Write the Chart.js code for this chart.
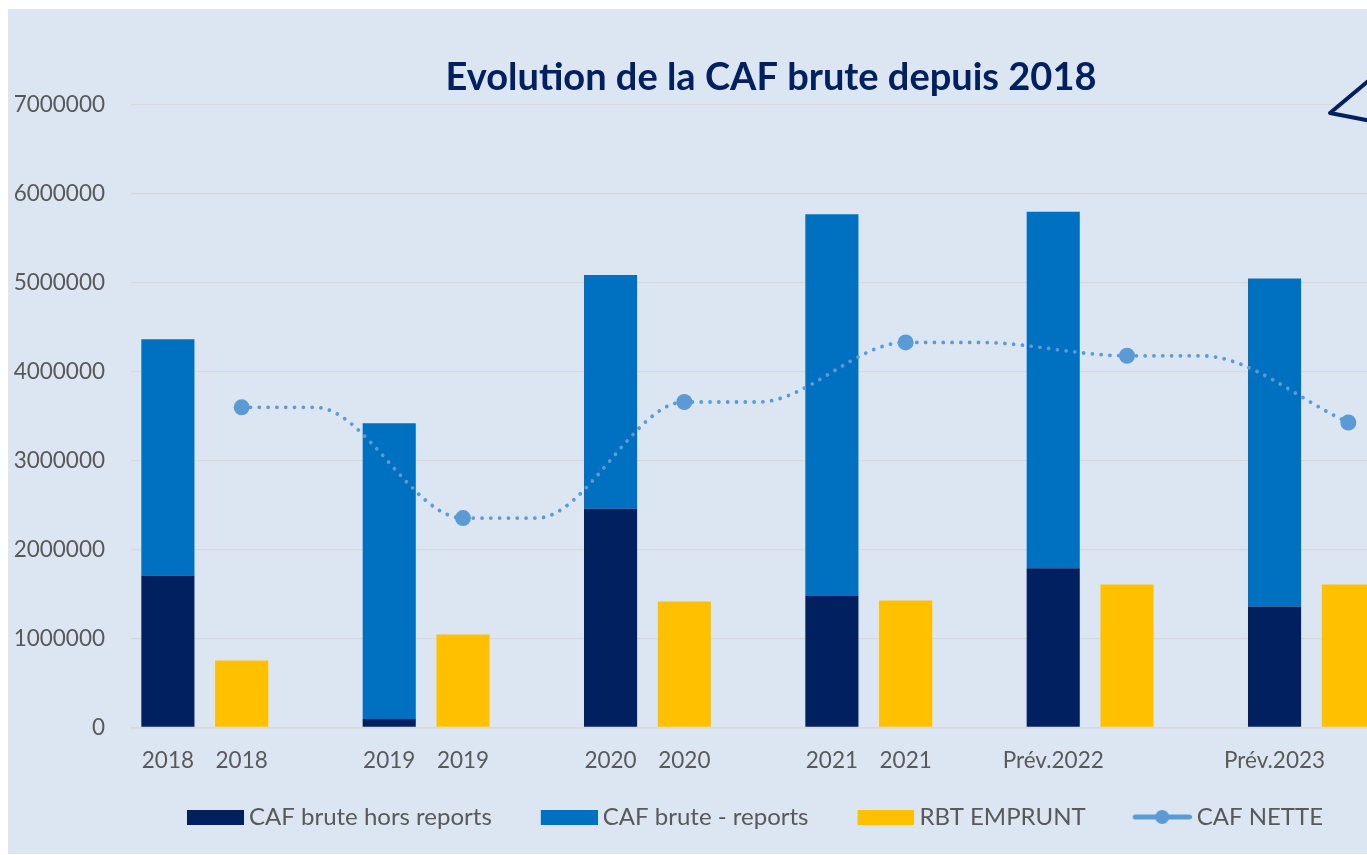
<!DOCTYPE html>
<html>
<head>
<meta charset="utf-8">
<script src="https://cdn.jsdelivr.net/npm/chart.js@4.4.0/dist/chart.umd.min.js"></script>
<style>
  html, body { margin: 0; padding: 0; background: #fff; overflow: hidden; width: 1367px; height: 855px; }
  #wrap { position: absolute; left: 8px; top: 9px; }
  canvas { display: block; background: #DCE6F2; }
</style>
</head>
<body>
<div id="wrap"><canvas id="caf" width="1526" height="845"></canvas></div>
<script>
// three slots per year: stacked CAF brute, RBT emprunt, empty gap
const categories = ['2018', '2018', '', '2019', '2019', '', '2020', '2020', '', '2021', '2021', '',
  'Prév.2022', '', '', 'Prév.2023', '', ''];
const cafHorsReports = [1710000, null, null, 95000, null, null, 2460000, null, null,
  1480000, null, null, 1790000, null, null, 1360000, null, null];
const cafReports = [2655000, null, null, 3325000, null, null, 2627000, null, null,
  4292000, null, null, 4011000, null, null, 3690000, null, null];
const rbtEmprunt = [null, 754000, null, null, 1047000, null, null, 1418000, null,
  null, 1429000, null, null, 1609000, null, null, 1609000, null];
const cafNette = [null, 3600000, 3600000, null, 2355000, 2355000, null, 3660000, 3660000,
  null, 4330000, 4330000, null, 4180000, 4180000, null, 3430000, null];
const yTicks = [0, 1000000, 2000000, 3000000, 4000000, 5000000, 6000000, 7000000];

const NAVY = '#002060';
const BLUE = '#0070C0';
const GOLD = '#FFC000';
const LINE = '#5B9BD5';
const GREY = '#595959';
const FONT = 'Lato, "Open Sans", sans-serif';

// legend icons: transparent lead-in on the left so the gaps match the original
function boxIcon(color) {
  const c = document.createElement('canvas');
  c.width = 83; c.height = 15;
  const g = c.getContext('2d');
  g.fillStyle = color;
  g.fillRect(26, 0, 57, 15);
  return c;
}

function lineIcon() {
  const c = document.createElement('canvas');
  c.width = 83; c.height = 18;
  const g = c.getContext('2d');
  g.strokeStyle = LINE;
  g.lineWidth = 5;
  g.lineCap = 'round';
  g.beginPath();
  g.moveTo(26.5, 9);
  g.lineTo(80.5, 9);
  g.stroke();
  g.fillStyle = LINE;
  g.beginPath();
  g.arc(53.5, 9, 7, 0, Math.PI * 2);
  g.fill();
  return c;
}

const legendIcons = [boxIcon(NAVY), boxIcon(BLUE), boxIcon(GOLD), lineIcon()];

// title and legend sit off-centre in the original, chart runs past the right edge
const shiftBoxes = {
  id: 'shiftBoxes',
  afterLayout(chart) {
    const dt = 37.5, dl = 12;
    chart.titleBlock.left += dt; chart.titleBlock.right += dt;
    chart.legend.left += dl; chart.legend.right += dl;
  }
};

// callout shape poking in at the top right
const callout = {
  id: 'callout',
  afterDraw(chart) {
    const ctx = chart.ctx;
    ctx.save();
    ctx.beginPath();
    ctx.moveTo(1420, 22);
    ctx.lineTo(1322, 104);
    ctx.lineTo(1420, 123);
    ctx.closePath();
    ctx.fillStyle = '#DCE6F2';
    ctx.fill();
    ctx.beginPath();
    ctx.moveTo(1420, 22);
    ctx.lineTo(1322, 104);
    ctx.lineTo(1420, 123);
    ctx.strokeStyle = NAVY;
    ctx.lineWidth = 4;
    ctx.lineJoin = 'round';
    ctx.stroke();
    ctx.restore();
  }
};

new Chart(document.getElementById('caf'), {
  data: {
    labels: categories,
    datasets: [
      {
        type: 'bar',
        label: 'CAF brute hors reports',
        data: cafHorsReports,
        backgroundColor: NAVY,
        order: 1,
      },
      {
        type: 'bar',
        label: 'CAF brute - reports',
        data: cafReports,
        backgroundColor: BLUE,
        order: 1,
      },
      {
        type: 'bar',
        label: 'RBT EMPRUNT',
        data: rbtEmprunt,
        backgroundColor: GOLD,
        order: 1,
      },
      {
        type: 'line',
        label: 'CAF NETTE',
        data: cafNette,
        borderColor: LINE,
        backgroundColor: LINE,
        borderWidth: 3.8,
        borderDash: [0.01, 8.8],
        borderCapStyle: 'round',
        cubicInterpolationMode: 'monotone',
        spanGaps: true,
        pointRadius: (ctx) => (rbtEmprunt[ctx.dataIndex] != null ? 8 : 0),
        pointBorderWidth: 0,
        pointBackgroundColor: LINE,
        order: 0,
      },
    ],
  },
  options: {
    responsive: false,
    animation: false,
    barPercentage: 0.72,
    categoryPercentage: 1,
    layout: {
      padding: { top: 0, right: 75, bottom: 15, left: 0 },
    },
    plugins: {
      title: {
        display: true,
        text: 'Evolution de la CAF brute depuis 2018',
        color: NAVY,
        font: { family: FONT, size: 38, weight: 'bold', lineHeight: 1.2 },
        padding: { top: 46.2, bottom: 4.2 },
      },
      legend: {
        position: 'bottom',
        labels: {
          usePointStyle: true,
          pointStyleWidth: 69,
          padding: 30,
          color: GREY,
          font: { family: FONT, size: 24 },
          sort: (a, b) => a.datasetIndex - b.datasetIndex,
          generateLabels: (chart) =>
            Chart.defaults.plugins.legend.labels.generateLabels(chart).map((item) => ({
              ...item,
              pointStyle: legendIcons[item.datasetIndex],
            })),
        },
      },
      tooltip: { enabled: false },
    },
    scales: {
      x: {
        stacked: true,
        grid: { display: false, drawTicks: false },
        border: { color: '#D9D9D9', width: 1.5 },
        ticks: {
          color: GREY,
          font: { family: FONT, size: 22.5, lineHeight: 1.2 },
          padding: 20,
          autoSkip: false,
          maxRotation: 0,
        },
        afterFit: (scale) => { scale.height = 47.5; },
      },
      y: {
        stacked: true,
        min: 0,
        max: 7000000,
        afterBuildTicks: (scale) => { scale.ticks = yTicks.map((v) => ({ value: v })); },
        grid: { color: '#D9D9D9', lineWidth: 1.3, drawTicks: false },
        border: { display: false },
        ticks: {
          color: GREY,
          font: { family: FONT, size: 22.5 },
          padding: 26,
          callback: (v) => String(v),
        },
        afterFit: (scale) => { scale.width = 123; },
      },
    },
  },
  plugins: [shiftBoxes, callout],
});
</script>
</body>
</html>
